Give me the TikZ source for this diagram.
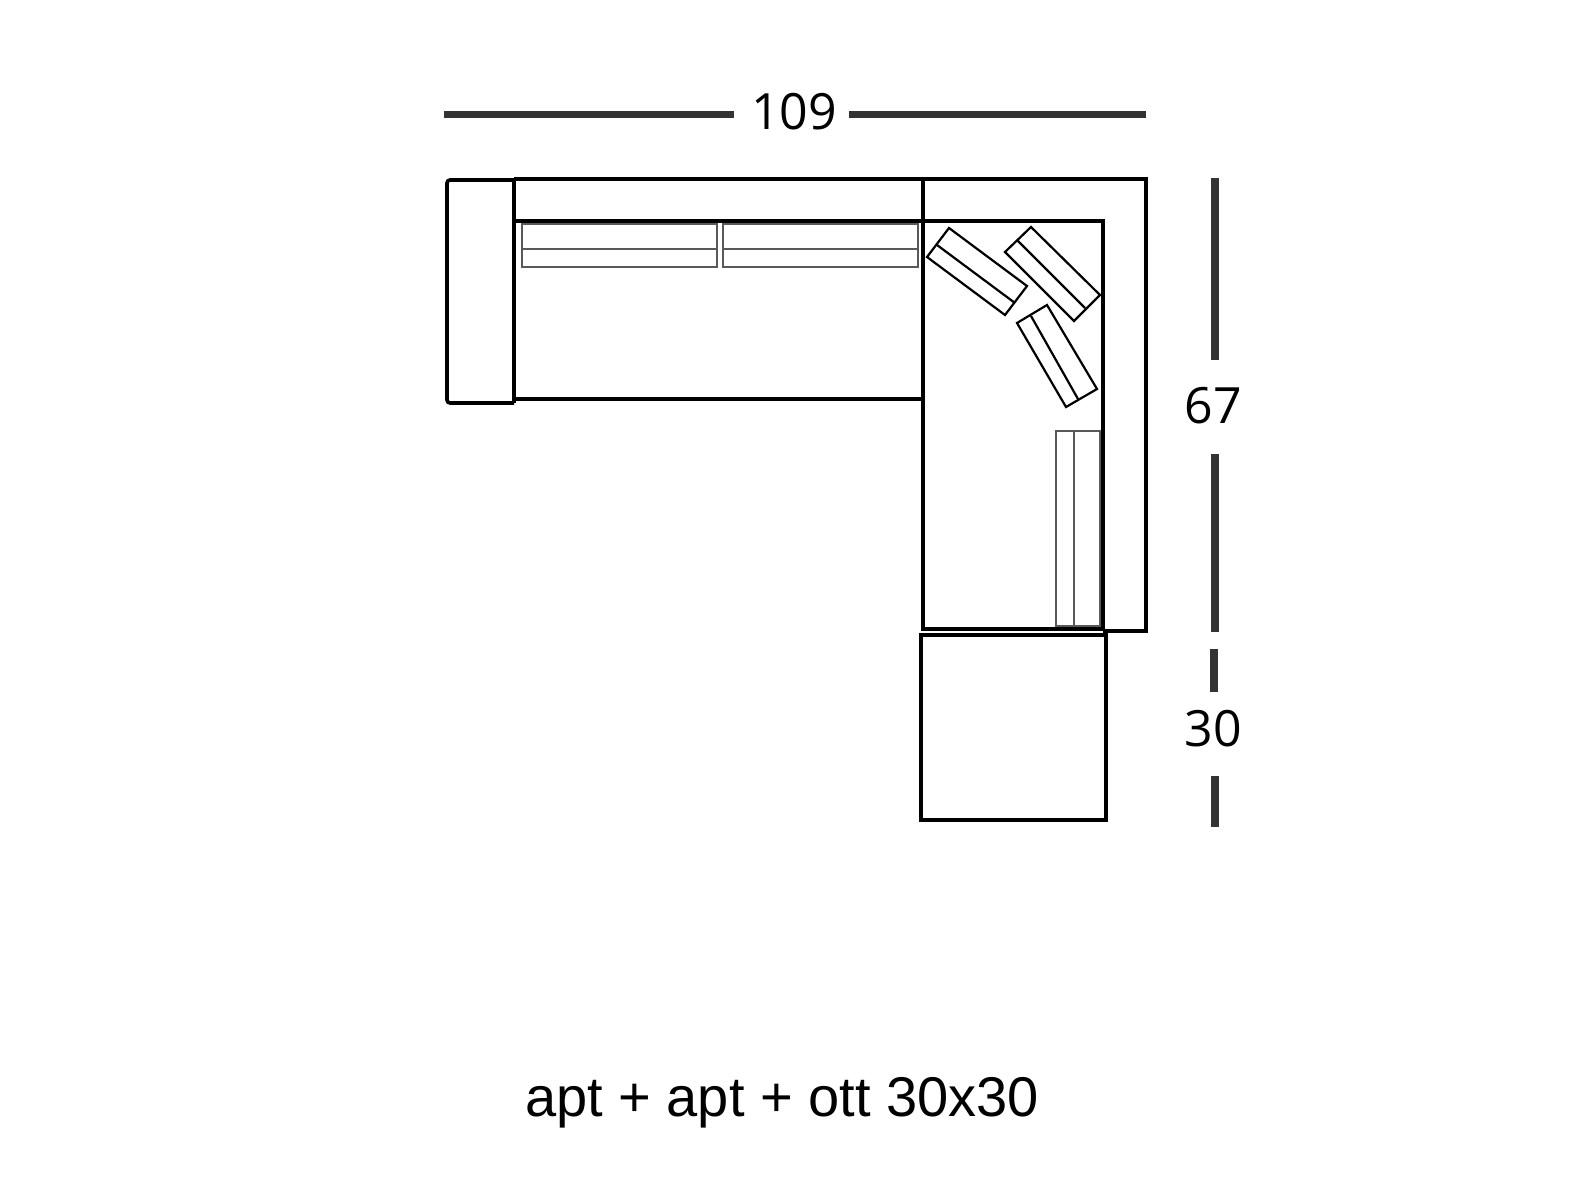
\documentclass[tikz,border=0pt]{standalone}
\usepackage{fontspec}
\setmainfont{Liberation Sans}
\newfontfamily\dimfont{Open Sans}
\definecolor{dimgrey}{HTML}{333333}
\tikzset{
	sofaline/.style={draw=black, line width=3.6pt},
	thinline/.style={draw=black, line width=2.2pt},
	softline/.style={draw=black!65, line width=2.2pt},
	dimline/.style={draw=dimgrey, line width=7.5pt},
	dimtext/.style={font=\dimfont\fontsize{50}{50}\selectfont, text=black, inner sep=0pt},
}
\begin{document}
\begin{tikzpicture}[x=1pt, y=-1pt]
		\useasboundingbox (0,0) rectangle (1589,1189);
		% arm and first section
		\draw[sofaline, rounded corners=3pt] (514,180) -- (447,180) -- (447,403) -- (514,403);
		\draw[sofaline, line width=4.5pt] (514,179) -- (514,403);
		\draw[sofaline] (514,179) -- (1146,179) -- (1146,631) -- (1103,631);
		\draw[sofaline] (514,221) -- (1103,221) -- (1103,631);
		\draw[sofaline] (514,399) -- (923,399);
		\draw[sofaline] (923,179) -- (923,629) -- (1103,629);
		% ottoman
		\draw[sofaline] (921,635) rectangle (1106,820);
		% straight cushions
		\draw[softline] (522,224) rectangle (717,267);
		\draw[softline] (522,249) -- (717,249);
		\draw[softline] (723,224) rectangle (918,267);
		\draw[softline] (723,249) -- (918,249);
		\draw[softline] (1056,431) rectangle (1100,626);
		\draw[softline] (1074,431) -- (1074,626);
		% turned cushions
		\draw[thinline] (949,228) -- (1027,286) -- (1005,315) -- (927,257) -- cycle;
		\draw[thinline] (937,245) -- (1015,303);
		\draw[thinline] (1031,227) -- (1100,295) -- (1074,321) -- (1005,252) -- cycle;
		\draw[thinline] (1017,240) -- (1085,308);
		\draw[thinline] (1047,305) -- (1097,389) -- (1066,407) -- (1017,323) -- cycle;
		\draw[thinline] (1031,316) -- (1078,399);
		% sizes
		\node[dimtext] (width) at (794,112) {109};
		\node[dimtext] (depth) at (1213,406) {67};
		\node[dimtext] (ottdepth) at (1213,729) {30};
		\coordinate (widthL) at (444,114.5);
		\coordinate (widthLend) at (734,114.5);
		\coordinate (widthRend) at (849,114.5);
		\coordinate (widthR) at (1146,114.5);
		\coordinate (depthT) at (1215,178);
		\coordinate (depthTend) at (1215,360);
		\coordinate (depthBend) at (1215,454);
		\coordinate (depthB) at (1215,632);
		\coordinate (ottT) at (1214,649);
		\coordinate (ottTend) at (1214,692);
		\coordinate (ottBend) at (1215,776);
		\coordinate (ottB) at (1215,827);
		\draw[dimline] (widthL) -- (widthLend);
		\draw[dimline] (widthRend) -- (widthR);
		\draw[dimline] (depthT) -- (depthTend);
		\draw[dimline] (depthBend) -- (depthB);
		\draw[dimline] (ottT) -- (ottTend);
		\draw[dimline] (ottBend) -- (ottB);
		\node[font=\fontsize{56}{56}\selectfont, text=black, inner sep=0pt] (caption) at (782,1103) {apt + apt + ott 30x30};
\end{tikzpicture}
\end{document}
